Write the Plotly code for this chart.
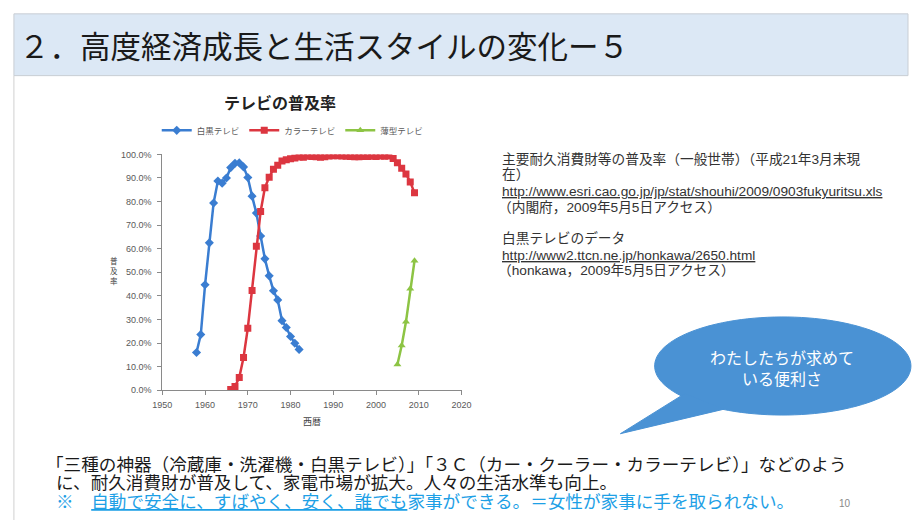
import numpy as np
import plotly.graph_objects as go

W, H = 918, 525

# ---- data ----
bw_years = list(range(1958, 1983))
bw_vals = [16.0, 23.6, 44.7, 62.5, 79.4, 88.7, 87.8, 90.0, 94.4, 96.2, 96.4, 94.7,
           90.2, 82.3, 75.1, 65.4, 55.7, 48.5, 42.2, 38.3, 29.5, 26.6, 22.8, 19.9, 17.3]
color_years = list(range(1966, 2010))
color_vals = [0.3, 1.6, 5.4, 13.9, 26.3, 42.3, 61.1, 75.8, 85.9, 90.3, 93.7, 95.4,
              97.2, 97.7, 98.2, 98.5, 98.9, 98.8, 99.2, 99.1, 99.0, 98.8, 99.0, 99.3,
              99.4, 99.4, 99.3, 99.2, 99.1, 99.0, 99.0, 99.1, 99.1, 99.2, 99.1, 99.3,
              99.2, 99.3, 98.3, 96.5, 94.1, 91.7, 88.3, 83.7]
flat_years = [2005, 2006, 2007, 2008, 2009]
flat_vals = [10.9, 19.0, 29.0, 43.0, 54.9]
series_names = ["白黒テレビ", "カラーテレビ", "薄型テレビ"]
x_ticks = [1950, 1960, 1970, 1980, 1990, 2000, 2010, 2020]
y_ticks = [0, 10, 20, 30, 40, 50, 60, 70, 80, 90, 100]
y_tick_labels = ["0.0%", "10.0%", "20.0%", "30.0%", "40.0%", "50.0%", "60.0%", "70.0%",
                 "80.0%", "90.0%", "100.0%"]


def px(x):
    return x / W


def py(y):
    return 1 - y / H


JP = "Noto Sans CJK JP"
fig = go.Figure()
fig.add_trace(go.Scatter(x=bw_years, y=bw_vals, name=series_names[0], mode="lines+markers",
                         line=dict(color="#3a7dd1", width=2.5),
                         marker=dict(symbol="diamond", size=7, color="#3a7dd1")))
fig.add_trace(go.Scatter(x=color_years, y=color_vals, name=series_names[1], mode="lines+markers",
                         line=dict(color="#dc3640", width=2.5),
                         marker=dict(symbol="square", size=7, color="#dc3640")))
fig.add_trace(go.Scatter(x=flat_years, y=flat_vals, name=series_names[2], mode="lines+markers",
                         line=dict(color="#8dc444", width=2.5),
                         marker=dict(symbol="triangle-up", size=7, color="#8dc444")))

axis_common = dict(showline=True, linecolor="#8a8a8a", linewidth=1, ticks="outside",
                   ticklen=4, tickcolor="#8a8a8a", showgrid=False, zeroline=False,
                   tickfont=dict(family="Liberation Sans", size=9, color="#595959"))
fig.update_xaxes(range=[1950, 2020], tickvals=x_ticks, domain=[px(155.7), px(461.6)],
                 ticklabelstandoff=2, **axis_common)
fig.update_yaxes(range=[0, 100], tickvals=y_ticks, ticktext=y_tick_labels,
                 domain=[py(392.7), py(152.3)], ticklabelstandoff=4, **axis_common)

shapes = [
    dict(type="rect", xref="paper", yref="paper", x0=px(4), x1=1.0, y0=py(72), y1=py(9),
         fillcolor="#dce8f5", line=dict(color="#c9ced4", width=1), layer="below"),
    dict(type="line", xref="paper", yref="paper", x0=px(4), x1=px(4), y0=py(72), y1=0,
         line=dict(color="#d0d0d0", width=1)),
]
cx, cy, rx, ry = 790, 368, 131, 50
th = np.linspace(0, 2 * np.pi, 120)
pts = [(cx + rx * np.cos(t), cy + ry * np.sin(t)) for t in th]
path = "M " + " L ".join(f"{px(a):.5f},{py(b):.5f}" for a, b in pts) + " Z"
shapes.append(dict(type="path", xref="paper", yref="paper", path=path,
                   fillcolor="#4a92d4", line=dict(color="#4a92d4", width=1)))
tail = [(690, 396), (624, 437), (730, 412)]
tpath = "M " + " L ".join(f"{px(a):.5f},{py(b):.5f}" for a, b in tail) + " Z"
shapes.append(dict(type="path", xref="paper", yref="paper", path=tpath,
                   fillcolor="#4a92d4", line=dict(color="#4a92d4", width=1)))

ann = []


def text(x, y, s, size, color="#222", anchor="left", family=JP, **kw):
    ann.append(dict(x=px(x), y=py(y), xref="paper", yref="paper", text=s, showarrow=False,
                    xanchor=anchor, yanchor="middle",
                    font=dict(family=family, size=size, color=color), **kw))


text(7, 41, "２．高度経済成長と生活スタイルの変化ー５", 30.5, "#1a1a1a")
text(276, 99, "<b>テレビの普及率</b>", 16, "#222", "center")
text(308.6, 425, "西暦", 9, "#444", "center")
text(106, 271, "普<br>及<br>率", 7.5, "#444", "center")

RF = "Liberation Sans, Noto Sans CJK JP"
RS = 13.7
text(501, 157, "主要耐久消費財等の普及率（一般世帯）（平成21年3月末現", RS, "#333", family=RF)
text(501, 173, "在）", RS, "#333", family=RF)
text(501, 190, "<u>http://www.esri.cao.go.jp/jp/stat/shouhi/2009/0903fukyuritsu.xls</u>", RS,
     "#333", family=RF)
text(497, 206, "（内閣府，2009年5月5日アクセス）", RS, "#333", family=RF)
text(501, 238, "白黒テレビのデータ", RS, "#333", family=RF)
text(501, 255, "<u>http://www2.ttcn.ne.jp/honkawa/2650.html</u>", RS, "#333", family=RF)
text(497, 271, "（honkawa，2009年5月5日アクセス）", RS, "#333", family=RF)

text(789, 370, "わたしたちが求めて<br>いる便利さ", 16, "#ffffff", "center")

BS = 17.6
text(35, 467, "「三種の神器（冷蔵庫・洗濯機・白黒テレビ）」「３Ｃ（カー・クーラー・カラーテレビ）」などのよう",
     BS, "#1a1a1a")
text(45, 486, "に、耐久消費財が普及して、家電市場が拡大。人々の生活水準も向上。", BS, "#1a1a1a")
text(45, 505, "※　<u>自動で安全に、すばやく、安く、誰でも</u>家事ができる。＝女性が家事に手を取られない。",
     BS, "#1da0e6")
text(854, 508, "10", 10, "#888", "center", family="Liberation Sans")

fig.update_layout(
    width=W, height=H, margin=dict(l=0, r=0, t=0, b=0),
    paper_bgcolor="white", plot_bgcolor="white",
    shapes=shapes, annotations=ann,
    legend=dict(orientation="h", x=px(150), y=py(113), xanchor="left", yanchor="top",
                font=dict(family=JP, size=8.5, color="#595959"), itemwidth=30,
                bgcolor="rgba(0,0,0,0)"),
)
fig.write_html("out.html", config={"displayModeBar": False},
               post_script="document.body.style.margin='0';document.body.style.overflow='hidden';")
